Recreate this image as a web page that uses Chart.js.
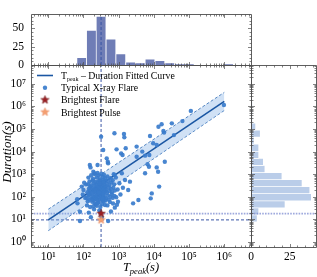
<!DOCTYPE html>
<html><head><meta charset="utf-8">
<script src="https://cdn.jsdelivr.net/npm/chart.js@4.4.0/dist/chart.umd.min.js"></script>
<style>
html,body{margin:0;padding:0;background:#fff;}
#wrap{position:relative;width:317px;height:277px;background:#fff;}
canvas{position:absolute;left:0;top:0;}
</style></head><body>
<div id="wrap">
<canvas id="topHist" width="317" height="277"></canvas>
<canvas id="rightHist" width="317" height="277"></canvas>
<canvas id="main" width="317" height="277"></canvas>
</div>
<script>
// ---------- data (log10 of seconds) ----------
const logTpeak = [
 1.82,1.90,1.83,1.90,1.95,1.98,2.02,2.05,2.00,2.07,
 2.18,2.20,2.28,2.31,2.40,2.50,2.56,2.66,2.69,2.70,2.88,2.89,2.70,2.89,2.94,3.07,3.11,3.09,3.18,2.98,3.15,3.16,
 3.20,3.27,3.32,3.41,3.51,3.51,3.56,3.67,
 3.75,3.75,3.87,3.82,3.86,3.89,3.98,3.94,3.91,
 4.08,4.13,4.08,4.12,4.15,4.22,4.27,4.29,4.31,4.51,4.57,4.81,5.05,5.99,
 2.21,2.15,2.30,2.10,2.19,2.25,2.33,2.12,2.28,2.35,2.09,2.14,2.17,2.20,2.23,2.26,2.29,2.31,2.34,2.16,2.27,2.32,
 2.11,2.15,2.18,2.22,2.24,2.28,2.30,2.33,2.35,2.19,2.13,2.17,2.21,2.26,2.29,2.32,2.34,2.14,2.22,2.27,2.33,
 2.52,2.45,2.38,2.43,2.48,2.53,2.57,2.61,2.41,
 2.36,2.38,2.40,2.42,2.44,2.46,2.48,2.50,2.52,2.54,2.56,2.58,2.60,2.62,2.47,2.55,
 2.37,2.39,2.41,2.43,2.45,2.47,2.49,2.51,2.53,2.55,2.57,2.59,2.61,2.63,2.44,2.58,
 2.37,2.40,2.42,2.45,2.48,2.50,2.52,2.54,2.56,2.59,2.61,2.63,2.46,2.57,
 2.38,2.43,2.47,2.51,2.55,2.58,2.62,2.40,
 2.78,2.68,2.75,2.84,2.65,2.69,2.72,2.76,2.80,2.83,2.88,
 2.64,2.67,2.71,2.74,2.78,2.81,2.85,2.89,2.66,2.70,2.74,2.79,2.83,2.87,2.68,2.77,2.86,
 2.95,2.93,3.05,2.97,3.12,3.02,2.92
];
const logDuration = [
 1.89,0.93,1.71,1.34,2.45,2.10,2.62,1.95,2.30,2.55,
 3.41,3.30,3.11,3.04,3.41,4.66,4.07,3.70,3.55,3.48,4.81,2.96,0.93,1.52,4.10,3.92,3.85,3.04,2.74,1.78,4.78,4.63,
 4.15,2.30,2.67,1.71,4.22,3.77,1.86,4.00,
 3.82,3.04,3.85,3.44,3.33,4.69,4.37,2.15,1.93,
 4.29,5.10,3.30,3.11,2.45,5.21,4.91,4.84,3.55,5.25,4.73,5.35,5.80,6.06,
 1.10,1.30,1.45,1.62,1.55,1.78,1.70,1.80,1.58,1.66,1.95,2.05,1.88,2.12,1.93,2.02,1.85,2.08,1.97,2.10,1.90,2.00,
 2.20,2.35,2.27,2.40,2.18,2.31,2.22,2.38,2.25,2.44,2.55,2.68,2.50,2.72,2.60,2.48,2.66,2.85,2.95,2.80,3.00,
 1.08,1.40,1.60,1.75,1.55,1.68,1.80,1.64,1.72,
 1.90,2.05,1.84,1.98,2.10,1.88,2.03,1.93,2.12,1.86,2.00,2.08,1.95,1.83,2.13,1.91,
 2.22,2.36,2.17,2.30,2.42,2.25,2.38,2.20,2.33,2.44,2.15,2.28,2.40,2.24,2.19,2.35,
 2.52,2.65,2.48,2.72,2.58,2.68,2.50,2.62,2.75,2.55,2.70,2.47,2.60,2.66,
 2.85,2.95,2.78,3.02,2.88,2.98,2.82,3.05,
 1.35,1.62,1.77,1.70,1.92,2.06,1.87,2.00,2.11,1.95,2.04,
 2.30,2.18,2.42,2.26,2.35,2.20,2.40,2.28,2.58,2.70,2.52,2.64,2.73,2.55,2.90,2.82,3.00,
 1.65,1.98,2.10,2.32,2.40,2.60,2.85
];
const brightestFlare = {tpeak: 316, duration: 18};
const brightestPulse = {tpeak: 316, duration: 9.5};
const fitLogT = [1, 6];
const fitLogD = [0.98, 6.22];
const bandUpperLogD = [1.45, 6.62];
const bandLowerLogD = [0.50, 5.82];
const topBinEdgesLog = [1.81,2.09,2.36,2.64,2.92,3.20,3.48,3.75,4.03,4.31,4.59,4.87,5.14,5.42,5.70,5.98,6.26];
const topCounts = [10,47,66,35,15,4,3,8,6,3,1,1,0,0,0,1];
const rightBinEdgesLog = [0.89,1.20,1.51,1.82,2.14,2.45,2.76,3.07,3.39,3.70,4.01,4.33,4.64,4.95,5.26,5.58,5.89,6.20];
const rightCounts = [4,5,22,39,38,33,20,9,8,5,5,2,6,3,1,1,1];
const xTickExp = [1,2,3,4,5,6];
const yTickExp = [0,1,2,3,4,5,6,7];
const topTicks = [0,25,50];
const rightTicks = [0,25];
const legendLabels = ['Typical X-ray Flare','Brightest Flare','Brightest Pulse'];

// ---------- helpers ----------
const P = v => Math.pow(10, v);
const SUP = {'0':'⁰','1':'¹','2':'²','3':'³','4':'⁴','5':'⁵','6':'⁶','7':'⁷','8':'⁸','9':'⁹'};
const supLabel = v => '10' + String(Math.round(Math.log10(v))).split('').map(c=>SUP[c]).join('');
const FONT = 'Liberation Serif';
Chart.defaults.font.family = FONT;
Chart.defaults.color = '#000';
Chart.defaults.animation = false;

const xMin = P(0.509), xMax = P(6.759);
const yMin = P(-0.221), yMax = P(7.832);
const topMax = 69.3, rightMax = 42;

const C_POINT = 'rgba(58,124,204,0.92)';
const C_FIT = '#1b57a3';
const C_EDGE = '#2d69b3';
const C_BAND = 'rgba(120,170,225,0.35)';
const C_REF = '#3a55a5';
const C_REF_LIGHT = 'rgba(125,140,210,0.75)';
const C_TOP = '#6f7db6';
const C_RIGHT = '#bacde9';
const C_FRAME = '#4d4d4d';

function starCanvas(fill, stroke, r) {
  const s = Math.ceil(r * 2 + 2);
  const c = document.createElement('canvas'); c.width = s; c.height = s;
  const g = c.getContext('2d');
  g.beginPath();
  for (let k = 0; k < 10; k++) {
    const a = -Math.PI / 2 + k * Math.PI / 5;
    const rr = (k % 2) ? r * 0.42 : r;
    g.lineTo(s / 2 + rr * Math.cos(a), s / 2 + rr * Math.sin(a));
  }
  g.closePath(); g.fillStyle = fill; g.fill();
  g.strokeStyle = stroke; g.lineWidth = 0.6; g.stroke();
  return c;
}
const starFlare = starCanvas('#9e1f24', '#6e1010', 4.3);
const starPulse = starCanvas('#f6a070', '#e8875a', 4.3);

function logTicks(min, max) {
  const major = [], minor = [];
  for (let e = Math.floor(Math.log10(min)); e <= Math.ceil(Math.log10(max)); e++) {
    for (let k = 1; k < 10; k++) {
      const v = k * Math.pow(10, e);
      if (v >= min && v <= max) (k === 1 ? major : minor).push(v);
    }
  }
  return {major, minor};
}
function linTicks(majors, step, max) {
  const minor = [];
  for (let v = step; v < max; v += step) if (!majors.includes(v)) minor.push(v);
  return {major: majors, minor};
}

const frameTicks = {
  id: 'frameTicks',
  afterDatasetsDraw(chart, args, o) {
    const {ctx, chartArea: a} = chart;
    const L = Math.round(a.left) + 0.5, R = Math.round(a.right) + 0.5;
    const T = Math.round(a.top) + 0.5, B = Math.round(a.bottom) + 0.5;
    ctx.save();
    ctx.strokeStyle = C_FRAME; ctx.lineWidth = 0.9;
    ctx.beginPath(); ctx.rect(L, T, R - L, B - T); ctx.stroke();
    const xs = chart.scales.x, ys = chart.scales.y;
    ctx.lineWidth = 0.7;
    const vt = (vals, len) => vals.forEach(v => {
      const px = Math.round(xs.getPixelForValue(v)) + 0.5;
      if (px < L || px > R) return;
      ctx.beginPath(); ctx.moveTo(px, B); ctx.lineTo(px, B - len);
      ctx.moveTo(px, T); ctx.lineTo(px, T + len); ctx.stroke();
    });
    const ht = (vals, len) => vals.forEach(v => {
      const py = Math.round(ys.getPixelForValue(v)) + 0.5;
      if (py < T || py > B) return;
      ctx.beginPath(); ctx.moveTo(L, py); ctx.lineTo(L + len, py);
      ctx.moveTo(R, py); ctx.lineTo(R - len, py); ctx.stroke();
    });
    vt(o.x.major, 3.5); vt(o.x.minor, 2);
    ht(o.y.major, 3.5); ht(o.y.minor, 2);
    ctx.restore();
  }
};

function richText(ctx, parts, x, y, align) {
  let w = 0;
  parts.forEach(p => { ctx.font = p.font; w += ctx.measureText(p.t).width; });
  let cx = align === 'center' ? x - w / 2 : x;
  parts.forEach(p => {
    ctx.font = p.font; ctx.fillText(p.t, cx, y + (p.dy || 0));
    cx += ctx.measureText(p.t).width;
  });
}

const mainDecor = {
  id: 'mainDecor',
  afterDraw(chart) {
    const ctx = chart.ctx;
    ctx.save();
    ctx.fillStyle = '#000'; ctx.textBaseline = 'alphabetic'; ctx.textAlign = 'left';
    // legend
    const lx = 61, mx = 45, y0 = 75.5, dy = 12.2;
    const fs = 9.8;
    ctx.strokeStyle = C_FIT; ctx.lineWidth = 1.6;
    ctx.beginPath(); ctx.moveTo(37, y0); ctx.lineTo(53, y0); ctx.stroke();
    richText(ctx, [
      {t: 'T', font: `${fs}px "${FONT}"`},
      {t: 'peak', font: `${fs*0.62}px "${FONT}"`, dy: 2.2},
      {t: ' \u2013 Duration Fitted Curve', font: `${fs}px "${FONT}"`}
    ], lx, y0 + 3.4, 'left');
    ctx.fillStyle = C_POINT;
    ctx.beginPath(); ctx.arc(mx, y0 + dy, 2.2, 0, Math.PI * 2); ctx.fill();
    ctx.drawImage(starFlare, mx - starFlare.width / 2, y0 + 2 * dy - starFlare.height / 2);
    ctx.drawImage(starPulse, mx - starPulse.width / 2, y0 + 3 * dy - starPulse.height / 2);
    ctx.fillStyle = '#000'; ctx.font = `${fs}px "${FONT}"`;
    legendLabels.forEach((t, i) => ctx.fillText(t, lx, y0 + (i + 1) * dy + 3.4));
    // x title
    const a = chart.chartArea;
    richText(ctx, [
      {t: 'T', font: `italic 12.5px "${FONT}"`},
      {t: 'peak', font: `italic 8.5px "${FONT}"`, dy: 2.5},
      {t: '(s)', font: `italic 12.5px "${FONT}"`}
    ], (a.left + a.right) / 2, 271, 'center');
    // y title
    ctx.translate(10.5, (a.top + a.bottom) / 2 - 4);
    ctx.rotate(-Math.PI / 2);
    ctx.textAlign = 'center';
    ctx.font = `italic 13px "${FONT}"`;
    ctx.fillText('Duration(s)', 0, 0);
    ctx.restore();
  }
};

const tickFont = {family: FONT, size: 11.5};
const noGrid = {display: false, drawTicks: false, tickLength: 0};

// ---------- main scatter ----------
const flarePts = logTpeak.map((t, i) => ({x: P(t), y: P(logDuration[i])}));
const lineOf = (lt, ld) => lt.map((t, i) => ({x: P(t), y: P(ld[i])}));
const xT = logTicks(xMin, xMax), yT = logTicks(yMin, yMax);

new Chart(document.getElementById('main'), {
  type: 'scatter',
  data: {datasets: [
    {label: 'Brightest Pulse', data: [{x: brightestPulse.tpeak, y: brightestPulse.duration}], pointStyle: starPulse, order: 0},
    {label: 'Brightest Flare', data: [{x: brightestFlare.tpeak, y: brightestFlare.duration}], pointStyle: starFlare, order: 0.5},
    {label: 'Typical X-ray Flare', data: flarePts, backgroundColor: C_POINT, borderWidth: 0, pointRadius: 2.2, order: 1},
    {label: 'fit', type: 'line', data: lineOf(fitLogT, fitLogD), borderColor: C_FIT, borderWidth: 1.6, pointRadius: 0, fill: false, order: 2},
    {label: 'bandU', type: 'line', data: lineOf(fitLogT, bandUpperLogD), borderColor: C_EDGE, borderWidth: 0.8, borderDash: [3, 2], pointRadius: 0, fill: '+1', backgroundColor: C_BAND, order: 3},
    {label: 'bandL', type: 'line', data: lineOf(fitLogT, bandLowerLogD), borderColor: C_EDGE, borderWidth: 0.8, borderDash: [3, 2], pointRadius: 0, fill: false, order: 3},
    {label: 'vref', type: 'line', data: [{x: brightestFlare.tpeak, y: yMin}, {x: brightestFlare.tpeak, y: yMax}], borderColor: C_REF, borderWidth: 1, borderDash: [3, 2], pointRadius: 0, fill: false, order: 4},
    {label: 'hrefPulse', type: 'line', data: [{x: xMin, y: brightestPulse.duration}, {x: xMax, y: brightestPulse.duration}], borderColor: C_REF, borderWidth: 1, borderDash: [3, 2], pointRadius: 0, fill: false, order: 4},
    {label: 'hrefFlare', type: 'line', data: [{x: xMin, y: brightestFlare.duration}, {x: xMax, y: brightestFlare.duration}], borderColor: C_REF_LIGHT, borderWidth: 1.6, borderDash: [1.6, 1.2], pointRadius: 0, fill: false, order: 4}
  ]},
  options: {
    responsive: false, devicePixelRatio: 1, animation: false,
    layout: {padding: {left: 0, top: 65, right: 66, bottom: 0}},
    plugins: {legend: {display: false}, tooltip: {enabled: false}, frameTicks: {x: xT, y: yT}},
    scales: {
      x: {type: 'logarithmic', min: xMin, max: xMax, grid: noGrid, border: {display: false},
          afterBuildTicks: s => { s.ticks = xTickExp.map(e => ({value: P(e)})); },
          ticks: {callback: v => supLabel(v), font: tickFont, padding: 3, maxRotation: 0, autoSkip: false},
          afterFit: s => { s.height = 30; }},
      y: {type: 'logarithmic', min: yMin, max: yMax, grid: noGrid, border: {display: false},
          afterBuildTicks: s => { s.ticks = yTickExp.map(e => ({value: P(e)})); },
          ticks: {callback: v => supLabel(v), font: tickFont, padding: 5, autoSkip: false},
          afterFit: s => { s.width = 31; }}
    }
  },
  plugins: [frameTicks, mainDecor]
});

// ---------- top histogram (T_peak) ----------
const topData = topCounts.map((c, i) => ({x: P((topBinEdgesLog[i] + topBinEdgesLog[i + 1]) / 2), y: c}));
new Chart(document.getElementById('topHist'), {
  type: 'bar',
  data: {datasets: [
    {type: 'line', data: [{x: brightestFlare.tpeak, y: 0}, {x: brightestFlare.tpeak, y: topMax}], borderColor: C_REF, borderWidth: 1, borderDash: [3, 2], pointRadius: 0, fill: false, order: 0},
    {data: topData, backgroundColor: C_TOP, borderColor: '#ffffff', borderWidth: 0.7, barPercentage: 1, categoryPercentage: 1, order: 1}
  ]},
  options: {
    responsive: false, devicePixelRatio: 1, animation: false,
    layout: {padding: {left: 0, top: 2, right: 66, bottom: 212}},
    plugins: {legend: {display: false}, tooltip: {enabled: false}, frameTicks: {x: xT, y: linTicks(topTicks, 5, topMax)}},
    scales: {
      x: {type: 'logarithmic', min: xMin, max: xMax, display: false},
      y: {type: 'linear', min: 0, max: topMax, grid: noGrid, border: {display: false},
          afterBuildTicks: s => { s.ticks = topTicks.map(v => ({value: v})); },
          ticks: {font: tickFont, padding: 7},
          afterFit: s => { s.width = 31; }}
    }
  },
  plugins: [frameTicks]
});

// ---------- right histogram (Duration) ----------
const rightData = rightCounts.map((c, i) => ({y: P((rightBinEdgesLog[i] + rightBinEdgesLog[i + 1]) / 2), x: c}));
new Chart(document.getElementById('rightHist'), {
  type: 'bar',
  data: {datasets: [
    {type: 'line', indexAxis: 'x', data: [{x: 0, y: brightestFlare.duration}, {x: rightMax, y: brightestFlare.duration}], borderColor: C_REF_LIGHT, borderWidth: 1.6, borderDash: [1.6, 1.2], pointRadius: 0, fill: false, order: 0},
    {data: rightData, backgroundColor: C_RIGHT, borderColor: '#ffffff', borderWidth: 0.7, barPercentage: 1, categoryPercentage: 1, order: 1}
  ]},
  options: {
    indexAxis: 'y',
    responsive: false, devicePixelRatio: 1, animation: false,
    layout: {padding: {left: 251, top: 65, right: 1, bottom: 0}},
    plugins: {legend: {display: false}, tooltip: {enabled: false}, frameTicks: {x: linTicks(rightTicks, 5, rightMax), y: yT}},
    scales: {
      y: {type: 'logarithmic', min: yMin, max: yMax, display: false},
      x: {type: 'linear', min: 0, max: rightMax, grid: noGrid, border: {display: false},
          afterBuildTicks: s => { s.ticks = rightTicks.map(v => ({value: v})); },
          ticks: {font: tickFont, padding: 3, maxRotation: 0},
          afterFit: s => { s.height = 30; }}
    }
  },
  plugins: [frameTicks]
});
</script>
</body></html>
